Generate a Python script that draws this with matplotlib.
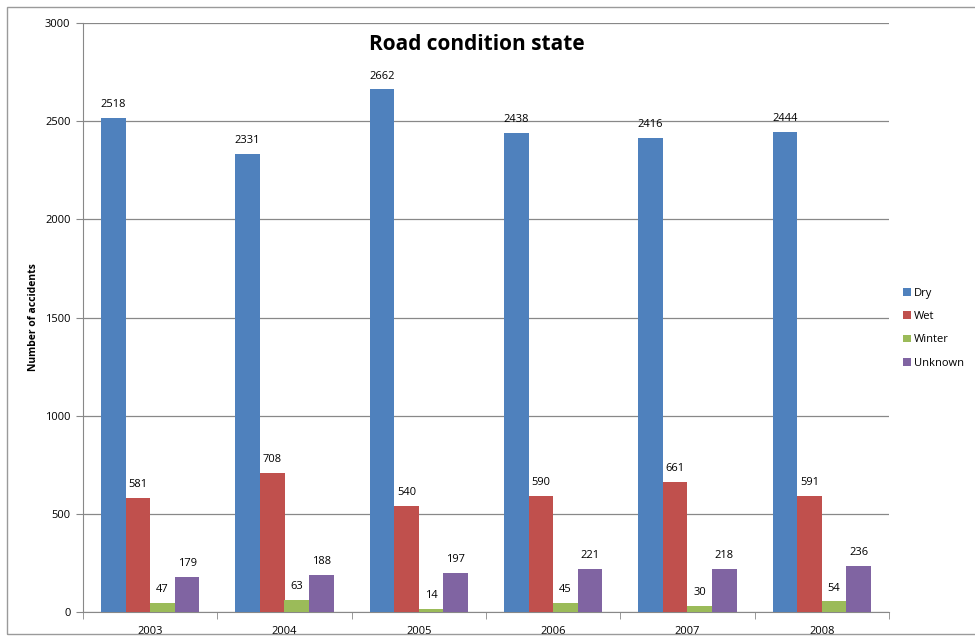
import numpy as np
import matplotlib.pyplot as plt
from matplotlib.patches import Rectangle

years = ['2003', '2004', '2005', '2006', '2007', '2008']
dry = [2518, 2331, 2662, 2438, 2416, 2444]
wet = [581, 708, 540, 590, 661, 591]
winter = [47, 63, 14, 45, 30, 54]
unknown = [179, 188, 197, 221, 218, 236]

series = [('Dry', dry, '#4F81BD'), ('Wet', wet, '#C0504D'),
          ('Winter', winter, '#9BBB59'), ('Unknown', unknown, '#8064A2')]

plt.rcParams['font.family'] = ['Open Sans', 'DejaVu Sans']

fig = plt.figure(figsize=(9.75, 6.41), dpi=100)
# outer chart border
fig.patches.append(Rectangle((7 / 975, 1 - 634 / 641), 1.0, 627 / 641,
                             transform=fig.transFigure, fill=False,
                             edgecolor='#9a9a9a', linewidth=1.0))

ax = fig.add_axes([83 / 975, 1 - 612 / 641, (889 - 83) / 975, (612 - 23) / 641])

x = np.arange(len(years))
w = 0.183
for i, (name, vals, col) in enumerate(series):
    pos = x + (i - 1.5) * w
    bars = ax.bar(pos, vals, w, color=col, label=name, zorder=3)
    for b, v in zip(bars, vals):
        ax.text(b.get_x() + b.get_width() / 2, v + 40, str(v),
                ha='center', va='bottom', fontsize=8, color='black')

ax.set_xlim(-0.5, len(years) - 0.5)
ax.set_ylim(0, 3000)
ax.set_yticks(range(0, 3001, 500))
ax.set_xticks(x)
ax.set_xticklabels(years, fontsize=8)
ax.set_xticks(np.arange(-0.5, len(years)), minor=True)
ax.tick_params(axis='x', which='major', length=0, pad=10)
ax.tick_params(axis='x', which='minor', length=5, color='#888888')
ax.tick_params(axis='y', labelsize=8, length=5, color='#888888', pad=4)
ax.yaxis.grid(True, color='#888888', linewidth=0.9, zorder=0)
for s in ['top', 'right']:
    ax.spines[s].set_visible(False)
ax.spines['left'].set_color('#888888')
ax.spines['bottom'].set_color('#888888')

fig.text(33 / 975, 1 - 317 / 641, 'Number of accidents', rotation=90,
         ha='center', va='center', fontsize=7.5, fontweight='bold')

fig.text(477 / 975, 1 - 45 / 641, 'Road condition state', ha='center', va='center',
         fontsize=15, fontweight='bold')

ax.legend(loc='upper left', bbox_to_anchor=(893 / 975, 1 - 278 / 641),
          bbox_transform=fig.transFigure, frameon=False, fontsize=8,
          handlelength=0.7, handleheight=0.7, handletextpad=0.3, labelspacing=1.1)

plt.savefig('out.png', dpi=100)
